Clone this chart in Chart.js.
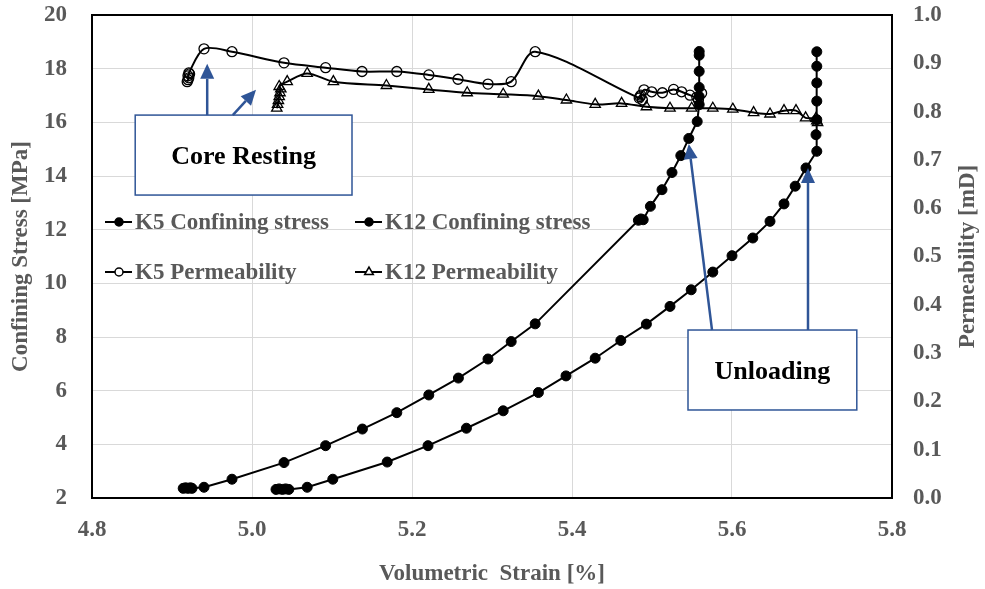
<!DOCTYPE html>
<html>
<head>
<meta charset="utf-8">
<style>
  html, body { margin: 0; padding: 0; background: #fff; }
  #wrap { width: 985px; height: 589px; }
</style>
<script src="https://cdn.jsdelivr.net/npm/chart.js@4/dist/chart.umd.min.js"></script>
</head>
<body>
<div id="wrap"><canvas id="chart"></canvas></div>
<script>
// Volumetric strain [%] and confining stress [MPa]
const k5StressStrain = [4.914, 4.917, 4.920, 4.923, 4.925, 4.940, 4.975, 5.040, 5.092, 5.138, 5.181, 5.221, 5.258, 5.295, 5.324, 5.354,
  5.483, 5.486, 5.489, 5.498, 5.5125, 5.525, 5.536, 5.546, 5.5565, 5.559, 5.559, 5.559, 5.559, 5.559, 5.559];
const k5Stress = [2.36, 2.38, 2.36, 2.38, 2.36, 2.40, 2.70, 3.32, 3.95, 4.57, 5.18, 5.84, 6.47, 7.18, 7.83, 8.49,
  12.35, 12.40, 12.37, 12.87, 13.49, 14.13, 14.76, 15.40, 16.03, 16.66, 16.96, 17.30, 17.90, 18.50, 18.64];

const k12StressStrain = [5.030, 5.034, 5.038, 5.042, 5.046, 5.069, 5.101, 5.169, 5.220, 5.268, 5.314, 5.358, 5.3925, 5.429, 5.461, 5.493,
  5.5225, 5.549, 5.576, 5.600, 5.626, 5.6475, 5.665, 5.679, 5.6925, 5.706, 5.705, 5.706, 5.706, 5.706, 5.706, 5.706];
const k12Stress = [2.32, 2.34, 2.32, 2.34, 2.32, 2.40, 2.70, 3.34, 3.95, 4.60, 5.25, 5.93, 6.55, 7.21, 7.87, 8.48,
  9.14, 9.76, 10.42, 11.03, 11.69, 12.31, 12.96, 13.62, 14.30, 14.92, 15.54, 16.10, 16.79, 17.47, 18.09, 18.63];

// Permeability [mD]
const k5PermStrain = [4.919, 4.920, 4.921, 4.920, 4.922, 4.921, 4.940, 4.975, 5.040, 5.092, 5.1375, 5.181, 5.221, 5.2575, 5.295, 5.324, 5.354,
  5.484, 5.486, 5.488, 5.485, 5.490, 5.4996, 5.513, 5.527, 5.537, 5.5475, 5.556, 5.562, 5.558];
const k5Perm = [0.862, 0.866, 0.870, 0.874, 0.878, 0.880, 0.930, 0.924, 0.901, 0.891, 0.883, 0.883, 0.876, 0.867, 0.857, 0.862, 0.924,
  0.828, 0.834, 0.824, 0.831, 0.845, 0.841, 0.839, 0.846, 0.841, 0.834, 0.830, 0.838, 0.824];

const k12PermStrain = [5.031, 5.032, 5.033, 5.034, 5.035, 5.036, 5.034, 5.044, 5.069, 5.1017, 5.168, 5.221, 5.269, 5.314, 5.358, 5.393,
  5.429, 5.462, 5.493, 5.5225, 5.5496, 5.576, 5.601, 5.627, 5.6475, 5.665, 5.680, 5.692, 5.705, 5.706, 5.707];
const k12Perm = [0.807, 0.815, 0.823, 0.831, 0.839, 0.847, 0.852, 0.862, 0.879, 0.862, 0.854, 0.846, 0.839, 0.836, 0.832, 0.824,
  0.815, 0.817, 0.810, 0.807, 0.807, 0.807, 0.805, 0.798, 0.795, 0.802, 0.802, 0.787, 0.786, 0.781, 0.777];

const FONT = '"Liberation Serif", "Times New Roman", serif';
const GRAY = '#595959';
const BLUE = '#2F5597';

function toPoints(xs, ys) {
  return xs.map((x, i) => ({ x: x, y: ys[i] }));
}

function drawArrow(ctx, x1, y1, x2, y2) {
  const ang = Math.atan2(y2 - y1, x2 - x1);
  const headLen = 15, headW = 7;
  const bx = x2 - headLen * Math.cos(ang), by = y2 - headLen * Math.sin(ang);
  ctx.beginPath();
  ctx.moveTo(x1, y1);
  ctx.lineTo(bx, by);
  ctx.stroke();
  ctx.beginPath();
  ctx.moveTo(x2, y2);
  ctx.lineTo(bx + headW * Math.sin(ang), by - headW * Math.cos(ang));
  ctx.lineTo(bx - headW * Math.sin(ang), by + headW * Math.cos(ang));
  ctx.closePath();
  ctx.fill();
}

// frame, annotations, legend and axis titles
const decorPlugin = {
  id: 'decor',
  beforeDatasetsDraw(chart) {
    const { ctx, chartArea: a } = chart;
    ctx.save();
    ctx.strokeStyle = '#000';
    ctx.lineWidth = 2;
    ctx.strokeRect(a.left, a.top, a.right - a.left, a.bottom - a.top);
    ctx.restore();
  },
  afterDatasetsDraw(chart) {
    const { ctx, chartArea: a, scales } = chart;
    const X = v => scales.x.getPixelForValue(v);
    const Y = v => scales.y.getPixelForValue(v);
    ctx.save();

    // annotation boxes
    const boxes = [
      { text: 'Core Resting', x1: 4.854, x2: 5.125, y1: 16.27, y2: 13.29 },
      { text: 'Unloading', x1: 5.545, x2: 5.756, y1: 8.26, y2: 5.28 }
    ];
    boxes.forEach(b => {
      const l = X(b.x1), r = X(b.x2), t = Y(b.y1), btm = Y(b.y2);
      ctx.fillStyle = '#fff';
      ctx.fillRect(l, t, r - l, btm - t);
      ctx.strokeStyle = BLUE;
      ctx.lineWidth = 1.5;
      ctx.strokeRect(l, t, r - l, btm - t);
      ctx.fillStyle = '#000';
      ctx.font = 'bold 26px ' + FONT;
      ctx.textAlign = 'center';
      ctx.textBaseline = 'alphabetic';
      ctx.fillText(b.text, (l + r) / 2, (t + btm) / 2 + 9);
    });

    // arrows
    ctx.strokeStyle = BLUE;
    ctx.fillStyle = BLUE;
    ctx.lineWidth = 2.5;
    drawArrow(ctx, X(4.944), Y(16.27), X(4.944), Y(18.18));
    drawArrow(ctx, X(4.976), Y(16.27), X(5.005), Y(17.21));
    drawArrow(ctx, X(5.575), Y(8.26), X(5.546), Y(15.19));
    drawArrow(ctx, X(5.695), Y(8.26), X(5.695), Y(14.30));

    // legend
    const items = [
      { ds: 0, x: a.left + 13, y: a.top + 207 },
      { ds: 1, x: a.left + 263, y: a.top + 207 },
      { ds: 2, x: a.left + 13, y: a.top + 257 },
      { ds: 3, x: a.left + 263, y: a.top + 257 }
    ];
    items.forEach(it => {
      const ds = chart.data.datasets[it.ds];
      ctx.strokeStyle = '#000';
      ctx.lineWidth = 2;
      ctx.beginPath();
      ctx.moveTo(it.x, it.y);
      ctx.lineTo(it.x + 27, it.y);
      ctx.stroke();
      ctx.fillStyle = ds.pointBackgroundColor === '#000' ? '#000' : '#fff';
      ctx.lineWidth = 1.5;
      Chart.helpers.drawPoint(ctx, {
        pointStyle: ds.pointStyle,
        radius: ds.pointStyle === 'triangle' ? 5 : 4,
        borderWidth: 1.5
      }, it.x + 14, it.y);
      ctx.fillStyle = GRAY;
      ctx.font = 'bold 23px ' + FONT;
      ctx.textAlign = 'left';
      ctx.textBaseline = 'middle';
      ctx.fillText(ds.label, it.x + 30, it.y + 1);
    });

    // axis titles
    ctx.fillStyle = GRAY;
    ctx.font = 'bold 23px ' + FONT;
    ctx.textAlign = 'center';
    ctx.textBaseline = 'middle';
    const midY = (a.top + a.bottom) / 2;
    ctx.save();
    ctx.translate(21, midY);
    ctx.rotate(-Math.PI / 2);
    ctx.fillText('Confining Stress [MPa]', 0, 0);
    ctx.restore();
    ctx.save();
    ctx.translate(968, midY);
    ctx.rotate(-Math.PI / 2);
    ctx.fillText('Permeability [mD]', 0, 0);
    ctx.restore();
    ctx.fillText('Volumetric  Strain [%]', (a.left + a.right) / 2, 574);

    ctx.restore();
  }
};

const tickFont = { family: FONT, size: 23, weight: 'bold' };

function fixWidth(w) {
  return s => { s.width = w; s.paddingTop = 0; s.paddingBottom = 0; };
}

new Chart(document.getElementById('chart'), {
  type: 'scatter',
  data: {
    datasets: [
      {
        label: 'K5 Confining stress',
        data: toPoints(k5StressStrain, k5Stress),
        yAxisID: 'y',
        showLine: true,
        borderColor: '#000',
        backgroundColor: '#000',
        borderWidth: 2,
        pointStyle: 'circle',
        pointRadius: 5,
        pointBackgroundColor: '#000',
        pointBorderColor: '#000',
        pointBorderWidth: 1,
        tension: 0
      },
      {
        label: 'K12 Confining stress',
        data: toPoints(k12StressStrain, k12Stress),
        yAxisID: 'y',
        showLine: true,
        borderColor: '#000',
        backgroundColor: '#000',
        borderWidth: 2,
        pointStyle: 'circle',
        pointRadius: 5,
        pointBackgroundColor: '#000',
        pointBorderColor: '#000',
        pointBorderWidth: 1,
        tension: 0
      },
      {
        label: 'K5 Permeability',
        data: toPoints(k5PermStrain, k5Perm),
        yAxisID: 'y1',
        showLine: true,
        borderColor: '#000',
        backgroundColor: 'rgba(0,0,0,0)',
        borderWidth: 2,
        pointStyle: 'circle',
        pointRadius: 5,
        pointBackgroundColor: 'rgba(0,0,0,0)',
        pointBorderColor: '#000',
        pointBorderWidth: 1.3,
        tension: 0.3
      },
      {
        label: 'K12 Permeability',
        data: toPoints(k12PermStrain, k12Perm),
        yAxisID: 'y1',
        showLine: true,
        borderColor: '#000',
        backgroundColor: 'rgba(0,0,0,0)',
        borderWidth: 2,
        pointStyle: 'triangle',
        pointRadius: 6,
        pointBackgroundColor: 'rgba(0,0,0,0)',
        pointBorderColor: '#000',
        pointBorderWidth: 1.3,
        tension: 0.3
      }
    ]
  },
  options: {
    responsive: true,
    maintainAspectRatio: false,
    animation: false,
    layout: { padding: { top: 15, left: 0, right: 0, bottom: 0 } },
    plugins: {
      legend: { display: false },
      tooltip: { enabled: false }
    },
    scales: {
      x: {
        type: 'linear',
        min: 4.8,
        max: 5.8,
        afterFit: s => { s.height = 91; s.paddingLeft = 0; s.paddingRight = 0; },
        grid: { color: '#d9d9d9', lineWidth: 1, drawTicks: false },
        border: { display: false },
        ticks: {
          stepSize: 0.2,
          padding: 18,
          color: GRAY,
          font: tickFont,
          maxRotation: 0,
          callback: v => v.toFixed(1)
        }
      },
      y: {
        position: 'left',
        min: 2,
        max: 20,
        afterFit: fixWidth(92),
        grid: { color: '#d9d9d9', lineWidth: 1, drawTicks: false },
        border: { display: false },
        ticks: { stepSize: 2, padding: 25, color: GRAY, font: tickFont }
      },
      y1: {
        position: 'right',
        min: 0,
        max: 1,
        afterFit: fixWidth(93),
        grid: { display: false, drawTicks: false },
        border: { display: false },
        ticks: { stepSize: 0.1, padding: 21, color: GRAY, font: tickFont, callback: v => v.toFixed(1) }
      }
    }
  },
  plugins: [decorPlugin]
});
</script>
</body>
</html>
